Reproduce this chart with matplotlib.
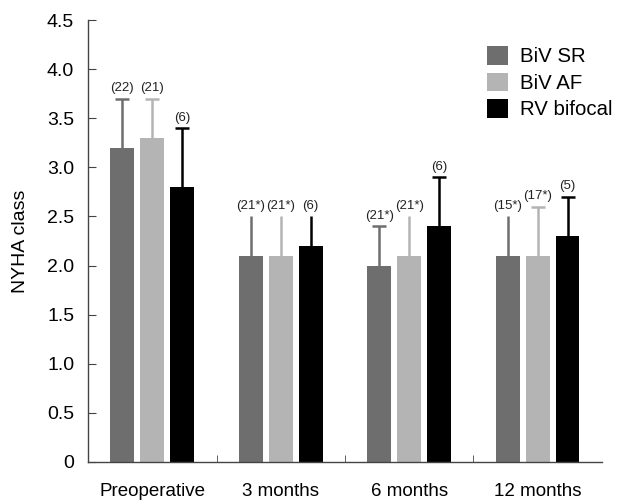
import matplotlib
matplotlib.use("Agg")
import matplotlib.pyplot as plt
import numpy as np

plt.rcParams['font.family'] = ['Liberation Sans', 'DejaVu Sans']

categories = ["Preoperative", "3 months", "6 months", "12 months"]
series_names = ["BiV SR", "BiV AF", "RV bifocal"]
biv_sr = [3.2, 2.1, 2.0, 2.1]
biv_af = [3.3, 2.1, 2.1, 2.1]
rv_bifocal = [2.8, 2.2, 2.4, 2.3]
sd_sr = [0.5, 0.4, 0.4, 0.4]
sd_af = [0.4, 0.4, 0.4, 0.5]
sd_rv = [0.6, 0.3, 0.5, 0.4]
n_sr = ["(22)", "(21*)", "(21*)", "(15*)"]
n_af = ["(21)", "(21*)", "(21*)", "(17*)"]
n_rv = ["(6)", "(6)", "(6)", "(5)"]
caps_sr = [True, False, True, False]
caps_af = [True, False, False, True]
caps_rv = [True, False, True, True]
yticks = [0, 0.5, 1.0, 1.5, 2.0, 2.5, 3.0, 3.5, 4.0, 4.5]
yticklabels = ["0", "0.5", "1.0", "1.5", "2.0", "2.5", "3.0", "3.5", "4.0", "4.5"]

colors = ["#6e6e6e", "#b4b4b4", "#000000"]

fig = plt.figure(figsize=(6.43, 5.0), dpi=100)
ax = fig.add_axes([0.137, 0.076, 0.799, 0.884])

x = np.arange(len(categories))
width = 0.186
offsets = [-0.233, 0.0, 0.233]
all_vals = [biv_sr, biv_af, rv_bifocal]
all_sd = [sd_sr, sd_af, sd_rv]
all_n = [n_sr, n_af, n_rv]
all_caps = [caps_sr, caps_af, caps_rv]

for vals, sds, ns, caps, off, col, name in zip(all_vals, all_sd, all_n, all_caps, offsets, colors, series_names):
    xs = x + off
    ax.bar(xs, vals, width=width, color=col, label=name, zorder=2)
    for xi, v, s, n, c in zip(xs, vals, sds, ns, caps):
        ax.vlines(xi, v, v + s, colors=col, linewidth=1.8, zorder=1)
        if c:
            ax.plot([xi], [v + s], marker='_', markersize=10, markeredgewidth=1.8,
                    color=col, zorder=1)
        ax.text(xi, v + s + 0.045, n, ha='center', va='bottom', fontsize=9.5, color='#222222')

ax.set_xlim(-0.5, 3.5)
ax.set_ylim(0, 4.5)
ax.set_yticks(yticks)
ax.set_yticklabels(yticklabels)
ax.set_xticks(x)
ax.set_xticklabels(categories)
ax.set_xticks([0.5, 1.5, 2.5], minor=True)
ax.tick_params(axis='x', which='major', length=0, pad=15, labelsize=13.5)
ax.tick_params(axis='x', which='minor', direction='in', length=5, color='#444444')
ax.tick_params(axis='y', direction='in', length=6, pad=10, labelsize=14, color='#444444')
ax.set_ylabel("NYHA class", fontsize=14)
ax.yaxis.set_label_coords(-0.115, 0.5)

for sp in ['top', 'right']:
    ax.spines[sp].set_visible(False)
for sp in ['left', 'bottom']:
    ax.spines[sp].set_color('#444444')
    ax.spines[sp].set_linewidth(1.0)

leg = ax.legend(loc='upper left', bbox_to_anchor=(0.776, 0.941), frameon=False,
                fontsize=14.7, handlelength=1.03, handleheight=1.03, labelspacing=0.3,
                handletextpad=0.6, borderaxespad=0, borderpad=0)

fig.savefig("out.png", dpi=100)
